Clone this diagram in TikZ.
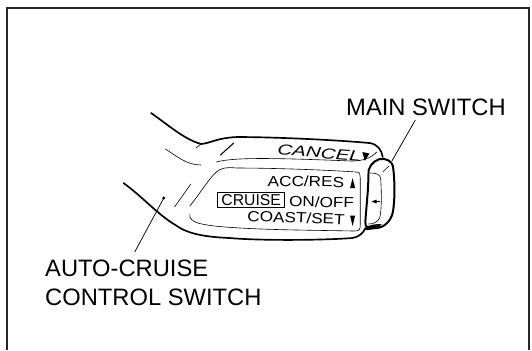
\documentclass[tikz,border=0pt]{standalone}
\usepackage{fontspec}
\setmainfont{Liberation Sans}
\tikzset{
 x=0.7653pt,y=-0.75pt,
 frameline/.style={line width=1.5pt,black!85},
 thick body/.style={line width=1.25pt,line cap=round,line join=round},
 thin body/.style={line width=0.45pt,line cap=round,line join=round},
 mid body/.style={line width=0.8pt,line cap=round,line join=round},
 leader/.style={line width=0.55pt},
 callout/.style={font=\fontsize{17.8pt}{21.75pt}\selectfont,inner sep=0pt,align=left,anchor=west},
 legend/.style={font=\fontsize{11pt}{11pt}\selectfont,inner sep=0pt,anchor=east,transform shape,xscale=1.17},
}
\begin{document}
\begin{tikzpicture}
\useasboundingbox (0,0) rectangle (521.3,350);
\fill[white] (0,0) rectangle (521.3,350);
% frame
\draw[frameline] (6.9,350) -- (6.9,7.6) -- (518.4,7.6) -- (518.4,350);
% body outline
\draw[thick body] (148,113) .. controls (165,125) and (180,139) .. (197,144)
  .. controls (207,143) and (212,138) .. (232,137)
  .. controls (270,137) and (330,140) .. (362,143)
  .. controls (370,144) and (374,150) .. (375,157);
\draw[thick body] (121,183) .. controls (140,197) and (155,215) .. (172,225)
  .. controls (185,235) and (205,237) .. (225,238)
  .. controls (260,241) and (320,240) .. (345,238)
  .. controls (352,237) and (356,233) .. (358,228);
% sheen lines upper
\draw[thin body] (162,149) .. controls (172,155) and (182,165) .. (197,165);
\draw[thin body] (212,162) .. controls (230,157) and (270,158) .. (345,161) .. controls (355,161) and (364,158) .. (369,152);
\draw[thin body] (192,148) -- (197,144);
\draw[mid body] (216,155) -- (229,143);
\draw[thin body] (171,207) -- (187,184);
\draw[thin body] (186,206) .. controls (195,195) and (205,178) .. (212,172) .. controls (216,168) and (222,167) .. (232,168)
  .. controls (270,168) and (320,170) .. (349,172) .. controls (353,172) and (353,175) .. (353,178)
  -- (353,225) .. controls (353,230) and (352,231) .. (347,231)
  .. controls (300,230) and (250,230) .. (210,226) .. controls (195,224) and (185,222) .. (186,214);
% main switch button
\draw[line width=1.5pt,line join=round] (361,175) .. controls (360,168) and (365,161) .. (372,159)
 .. controls (378,158) and (384,161) .. (385,166)
 .. controls (387,180) and (387,200) .. (385,212)
 .. controls (383,222) and (375,229) .. (366,228)
 .. controls (360,228) and (358,228) .. (358,222)
 .. controls (359,205) and (361,190) .. (361,175) -- cycle;
\draw[thin body] (363,173) .. controls (368,173) and (372,174) .. (373,178)
 .. controls (374,195) and (374,210) .. (372,218) .. controls (370,222) and (366,224) .. (361,224);
\draw[thin body] (375,172) -- (381,166);
\draw[mid body] (365,201.5) -- (372,201.5);
\fill (364,201.5) -- (369,199.5) -- (369,203.5) -- cycle;
\fill (358,228) .. controls (362,224) and (370,224) .. (374,224) .. controls (372,228) and (366,230) .. (358,230) -- cycle;
% labels on the switch
\node[legend,rotate=-5,xscale=1.2] (cancel) at (354,156) {\itshape CANCEL};
\fill (355,152) -- (362,153.5) -- (357.5,161) -- cycle;
\node[legend,rotate=-1] (acc) at (337.5,182) {ACC/RES};
\fill (343,188) -- (345.5,178) -- (348,188) -- cycle;
\node[legend,anchor=west,rotate=-1] (onoff) at (283,201.5) {ON/OFF};
\node[draw,line width=0.7pt,minimum width=50pt,minimum height=11.2pt,inner sep=0pt,anchor=west] (cruise) at (213,200) {};
\node[font=\fontsize{11.8pt}{12pt}\selectfont,inner sep=0pt] (cruisetext) at (cruise.center) {CRUISE};
\node[legend,rotate=-2.5] (coast) at (338,219.5) {COAST/SET};
\fill (343,215.5) -- (348,215.5) -- (345.5,226) -- cycle;
% callouts
\node[callout] (main) at (339,107.5) {MAIN SWITCH};
\node[callout] (auto) at (44,283) {AUTO-CRUISE\\CONTROL SWITCH};
\coordinate (mainend) at (384,161);
\coordinate (autoend) at (160.5,198);
\draw[leader] (407,120) -- (mainend);
\draw[leader] (132,252) -- (autoend);
\fill (autoend) circle (1.6);
\end{tikzpicture}
\end{document}
